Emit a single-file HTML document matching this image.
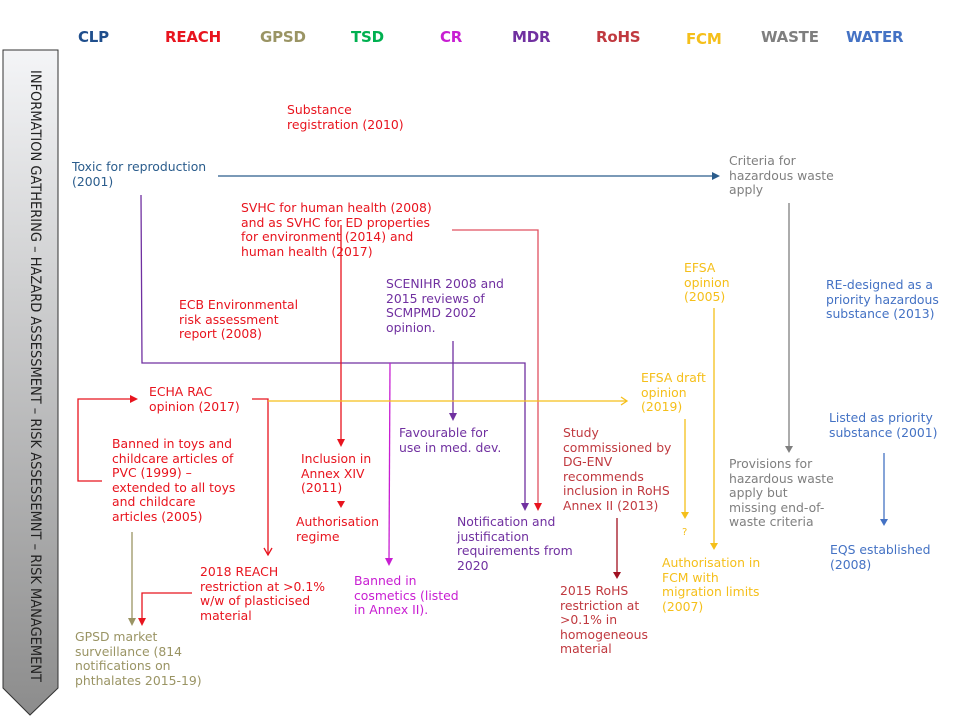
<!DOCTYPE html>
<html><head><meta charset="utf-8"><style>
body{margin:0;width:960px;height:720px;background:#fff;position:relative;overflow:hidden;font-family:"DejaVu Sans","Liberation Sans",sans-serif;}
.t{position:absolute;font-size:12.4px;line-height:14.5px;white-space:nowrap;letter-spacing:0}
.h{position:absolute;top:28px;font-size:15px;font-weight:bold;font-family:"DejaVu Sans",sans-serif;letter-spacing:-0.2px}
.red{color:#e8141e}.blue{color:#2a5c8c}.pur{color:#7030a0}.mag{color:#c81ed2}.ol{color:#9a9464}.yel{color:#f5bf1a}.gr{color:#7f7f7f}.wb{color:#4472c4}.rr{color:#c0393f}
</style></head><body>
<svg width="960" height="720" style="position:absolute;left:0;top:0">
<defs>
<linearGradient id="g" x1="0" y1="0" x2="0" y2="1"><stop offset="0" stop-color="#f4f5f7"/><stop offset="1" stop-color="#8c8c8c"/></linearGradient>
</defs>
<polygon points="3,50 58,50 58,688 30,715 3,688" fill="url(#g)" stroke="#333" stroke-width="1"/>
<g fill="none" stroke-width="1.3">
<polyline points="218,176 712,176" stroke="#2a5c8c"/>
<polygon points="712,172 720,176 712,180" fill="#2a5c8c" stroke="none"/>
<polyline points="141,195 142,363 525,363 525,505" stroke="#7030a0"/>
<polygon points="521,503 525,511 529,503" fill="#7030a0" stroke="none"/>
<polyline points="390,363 389,560" stroke="#c81ed2"/>
<polygon points="385,558 389,566 393,558" fill="#c81ed2" stroke="none"/>
<polyline points="453,341 453,415" stroke="#7030a0"/>
<polygon points="449,413 453,421 457,413" fill="#7030a0" stroke="none"/>
<polyline points="341,225 341,440" stroke="#e8141e"/>
<polygon points="337,439 341,447 345,439" fill="#e8141e" stroke="none"/>
<polygon points="337,501 341,508 345,501" fill="#e8141e" stroke="none"/>
<polyline points="452,230 538,230 538,505" stroke="#e05060"/>
<polygon points="534,503 538,511 542,503" fill="#e8141e" stroke="none"/>
<polyline points="102,481 78,481 78,399 132,399" stroke="#e8141e"/>
<polygon points="130,395 138,399 130,403" fill="#e8141e" stroke="none"/>
<polyline points="252,399 268,399 268,555" stroke="#e8141e"/>
<polyline points="264,548 268,555 272,548" stroke="#e8141e"/>
<polyline points="268,401 627,401" stroke="#f5bf1a"/>
<polyline points="621,397 627,401 621,405" stroke="#f5bf1a"/>
<polyline points="132,532 132,620" stroke="#9a9464"/>
<polygon points="128,618 132,626 136,618" fill="#9a9464" stroke="none"/>
<polyline points="192,593 142,593 142,618" stroke="#e8141e"/>
<polygon points="138,618 142,626 146,618" fill="#e8141e" stroke="none"/>
<polyline points="617,518 617,572" stroke="#a01020"/>
<polygon points="613,572 617,579 621,572" fill="#a01020" stroke="none"/>
<polyline points="685,419 685,512" stroke="#f5bf1a"/>
<polygon points="681,512 685,519 689,512" fill="#f5bf1a" stroke="none"/>
<polyline points="714,308 714,543" stroke="#f5bf1a"/>
<polygon points="710,543 714,550 718,543" fill="#f5bf1a" stroke="none"/>
<polyline points="789,203 789,446" stroke="#7f7f7f"/>
<polygon points="785,446 789,453 793,446" fill="#7f7f7f" stroke="none"/>
<polyline points="884,453 884,519" stroke="#4472c4"/>
<polygon points="880,519 884,526 888,519" fill="#4472c4" stroke="none"/>
</g>
<text x="30" y="70" transform="rotate(90 30 70) translate(0,-5)" font-family="DejaVu Sans,sans-serif" font-size="14" fill="#222" textLength="612" lengthAdjust="spacingAndGlyphs" dominant-baseline="middle">INFORMATION GATHERING – HAZARD ASSESSMENT – RISK ASSESSEMNT – RISK MANAGEMENT</text>
</svg>
<div class="h" style="left:78px;color:#1f4e8c">CLP</div>
<div class="h red" style="left:165px">REACH</div>
<div class="h ol" style="left:260px">GPSD</div>
<div class="h" style="left:351px;color:#00b050">TSD</div>
<div class="h mag" style="left:440px">CR</div>
<div class="h pur" style="left:512px">MDR</div>
<div class="h rr" style="left:596px">RoHS</div>
<div class="h yel" style="left:686px;top:30px">FCM</div>
<div class="h gr" style="left:761px">WASTE</div>
<div class="h wb" style="left:846px">WATER</div>

<div class="t red" style="left:287px;top:103px">Substance<br>registration (2010)</div>
<div class="t blue" style="left:72px;top:160px">Toxic for reproduction<br>(2001)</div>
<div class="t red" style="left:241px;top:201px">SVHC for human health (2008)<br>and as SVHC for ED properties<br>for environment (2014) and<br>human health (2017)</div>
<div class="t red" style="left:179px;top:298px">ECB Environmental<br>risk assessment<br>report (2008)</div>
<div class="t pur" style="left:386px;top:277px">SCENIHR 2008 and<br>2015 reviews of<br>SCMPMD 2002<br>opinion.</div>
<div class="t red" style="left:149px;top:385px">ECHA RAC<br>opinion (2017)</div>
<div class="t red" style="left:112px;top:437px">Banned in toys and<br>childcare articles of<br>PVC (1999) –<br>extended to all toys<br>and childcare<br>articles (2005)</div>
<div class="t red" style="left:301px;top:452px">Inclusion in<br>Annex XIV<br>(2011)</div>
<div class="t red" style="left:296px;top:515px">Authorisation<br>regime</div>
<div class="t pur" style="left:399px;top:426px">Favourable for<br>use in med. dev.</div>
<div class="t pur" style="left:457px;top:515px">Notification and<br>justification<br>requirements from<br>2020</div>
<div class="t mag" style="left:354px;top:574px">Banned in<br>cosmetics (listed<br>in Annex II).</div>
<div class="t red" style="left:200px;top:565px">2018 REACH<br>restriction at &gt;0.1%<br>w/w of plasticised<br>material</div>
<div class="t ol" style="left:75px;top:630px">GPSD market<br>surveillance (814<br>notifications on<br>phthalates 2015-19)</div>
<div class="t rr" style="left:563px;top:426px">Study<br>commissioned by<br>DG-ENV<br>recommends<br>inclusion in RoHS<br>Annex II (2013)</div>
<div class="t rr" style="left:560px;top:584px">2015 RoHS<br>restriction at<br>&gt;0.1% in<br>homogeneous<br>material</div>
<div class="t yel" style="left:684px;top:261px">EFSA<br>opinion<br>(2005)</div>
<div class="t yel" style="left:641px;top:371px">EFSA draft<br>opinion<br>(2019)</div>
<div class="t yel" style="left:682px;top:526px;font-size:10px">?</div>
<div class="t yel" style="left:662px;top:556px">Authorisation in<br>FCM with<br>migration limits<br>(2007)</div>
<div class="t gr" style="left:729px;top:154px">Criteria for<br>hazardous waste<br>apply</div>
<div class="t gr" style="left:729px;top:457px">Provisions for<br>hazardous waste<br>apply but<br>missing end-of-<br>waste criteria</div>
<div class="t wb" style="left:826px;top:278px">RE-designed as a<br>priority hazardous<br>substance (2013)</div>
<div class="t wb" style="left:829px;top:411px">Listed as priority<br>substance (2001)</div>
<div class="t wb" style="left:830px;top:543px">EQS established<br>(2008)</div>
</body></html>
